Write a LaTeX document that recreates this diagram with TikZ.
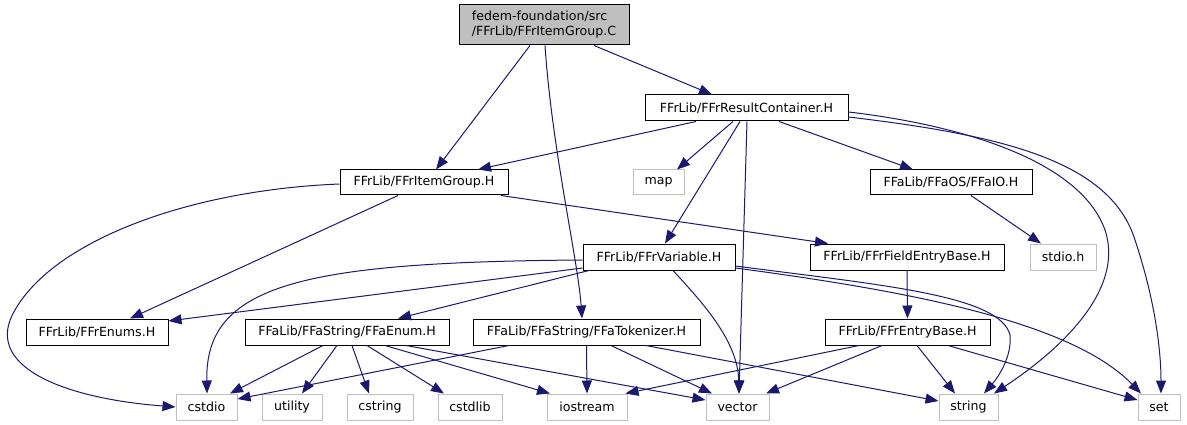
\documentclass[tikz,border=0pt]{standalone}
\usepackage{fontspec}
\setmainfont{DejaVu Sans}
\usetikzlibrary{arrows.meta}
\definecolor{edgec}{HTML}{191970}
\definecolor{grayb}{HTML}{BFBFBF}
\begin{document}
\begin{tikzpicture}[x=1pt,y=-1pt,
 box/.style={draw=black,line width=1pt,fill=white,inner sep=0pt,font=\fontsize{12.6}{15}\selectfont,minimum height=26pt},
 sysbox/.style={box,draw=grayb},
 rootbox/.style={box,fill=grayb,align=left,minimum height=40pt},
 edge/.style={draw=edgec,line width=1pt,-{Triangle[length=13pt,width=10pt]}}]
\useasboundingbox (0,0) rectangle (1187,425);
% nodes
\node[rootbox,minimum width=170pt] (root) at (544,25) {fedem-foundation/src\\/FFrLib/FFrItemGroup.C};
\node[box,minimum width=203pt] (rc) at (746.5,108) {FFrLib/FFrResultContainer.H};
\node[box,minimum width=168pt,minimum height=25pt] (ig) at (424,182.5) {FFrLib/FFrItemGroup.H};
\node[sysbox,minimum width=51pt,minimum height=25pt] (map) at (658.5,182.5) {map};
\node[box,minimum width=162pt,minimum height=25pt] (io) at (951,182.5) {FFaLib/FFaOS/FFaIO.H};
\node[box,minimum width=152pt] (var) at (659,257) {FFrLib/FFrVariable.H};
\node[box,minimum width=194pt] (feb) at (907,257) {FFrLib/FFrFieldEntryBase.H};
\node[sysbox,minimum width=66pt] (stdioh) at (1063,257) {stdio.h};
\node[box,minimum width=142pt] (enums) at (97,332) {FFrLib/FFrEnums.H};
\node[box,minimum width=204pt] (ffaenum) at (347,332) {FFaLib/FFaString/FFaEnum.H};
\node[box,minimum width=227pt] (tok) at (586.5,332) {FFaLib/FFaString/FFaTokenizer.H};
\node[box,minimum width=165pt] (eb) at (907.5,332) {FFrLib/FFrEntryBase.H};
\node[sysbox,minimum width=61pt] (cstdio) at (206.5,407) {cstdio};
\node[sysbox,minimum width=60pt] (utility) at (292,407) {utility};
\node[sysbox,minimum width=66pt] (cstring) at (380,407) {cstring};
\node[sysbox,minimum width=64pt] (cstdlib) at (470,407) {cstdlib};
\node[sysbox,minimum width=80pt] (iostream) at (587,407) {iostream};
\node[sysbox,minimum width=63pt] (vector) at (737.5,407) {vector};
\node[sysbox,minimum width=59pt] (string) at (968.5,407) {string};
\node[sysbox,minimum width=42pt] (set) at (1159,407) {set};
% edges from root
\draw[edge] ([xshift=-14pt]root.south) -- ([xshift=12pt]ig.north);
\draw[edge] ([xshift=50pt]root.south) -- ([xshift=-34.5pt]rc.north);
\draw[edge] ([xshift=1pt]root.south) .. controls (552,150) and (578,260) .. ([xshift=-4.5pt]tok.north);
% edges from rc
\draw[edge] ([xshift=-50.5pt]rc.south) -- ([xshift=54pt]ig.north);
\draw[edge] ([xshift=-13.5pt]rc.south) -- ([xshift=18.5pt]map.north);
\draw[edge] ([xshift=-6.5pt]rc.south) -- ([xshift=6pt]var.north);
\draw[edge] ([xshift=0.5pt]rc.south) -- ([xshift=1.5pt]vector.north);
\draw[edge] ([xshift=32.5pt]rc.south) -- ([xshift=-38pt]io.north);
\draw[edge] ([yshift=-4pt]rc.east) .. controls (960,125) and (1080,160) .. (1105,230) .. controls (1125,290) and (1060,350) .. ([xshift=25.5pt]string.north);
\draw[edge] ([yshift=-9pt]rc.east) .. controls (1000,135) and (1110,160) .. (1135,240) .. controls (1155,300) and (1161,350) .. ([xshift=2pt]set.north);
% edges from ig
\draw[edge] ([yshift=-1.5pt]ig.west) .. controls (190,190) and (55,240) .. (15,310) .. controls (-18,365) and (60,398) .. (cstdio.west);
\draw[edge] ([xshift=-26pt]ig.south) -- ([xshift=33pt]enums.north);
\draw[edge] ([xshift=77pt]ig.south) -- ([xshift=-79pt]feb.north);
% io
\draw[edge] ([xshift=20pt]io.south) -- ([xshift=-22pt]stdioh.north);
% var
\draw[edge] ([yshift=-11pt]var.west) -- ([yshift=11pt]enums.east);
\draw[edge] ([yshift=-3pt]var.west) .. controls (300,262) and (205,285) .. ([xshift=0.5pt]cstdio.north);
\draw[edge] ([xshift=-70pt]var.south) -- ([xshift=51pt]ffaenum.north);
\draw[edge] ([xshift=14pt]var.south) .. controls (700,300) and (738,340) .. ([xshift=1.5pt]vector.north);
\draw[edge] ([yshift=-9pt]var.east) .. controls (880,285) and (1000,295) .. (1010,335) .. controls (1012,355) and (1000,375) .. ([xshift=15.5pt]string.north);
\draw[edge] ([yshift=-11pt]var.east) .. controls (900,290) and (1070,320) .. ([xshift=-18pt]set.north);
% feb
\draw[edge] (feb.south) -- (eb.north);
% ffaenum
\draw[edge] ([xshift=-24pt]ffaenum.south) -- ([xshift=23.5pt]cstdio.north);
\draw[edge] ([xshift=-10pt]ffaenum.south) -- ([xshift=10pt]utility.north);
\draw[edge] ([xshift=5pt]ffaenum.south) -- ([xshift=-11pt]cstring.north);
\draw[edge] ([xshift=20pt]ffaenum.south) -- ([xshift=-26pt]cstdlib.north);
\draw[edge] ([xshift=38pt]ffaenum.south) -- ([xshift=-37pt]iostream.north);
\draw[edge] ([xshift=59pt]ffaenum.south) -- ([yshift=7pt]vector.west);
% tok
\draw[edge] ([xshift=-77.5pt]tok.south) -- ([yshift=8pt]cstdio.east);
\draw[edge] (tok.south) -- (iostream.north);
\draw[edge] ([xshift=24.5pt]tok.south) -- ([xshift=-25.5pt]vector.north);
\draw[edge] ([xshift=59.5pt]tok.south) -- ([yshift=6pt]string.west);
% eb
\draw[edge] ([xshift=-48.5pt]eb.south) -- ([xshift=-2pt]iostream.north east);
\draw[edge] ([xshift=-25.5pt]eb.south) -- ([xshift=28.5pt]vector.north);
\draw[edge] ([xshift=9.5pt]eb.south) -- ([xshift=-13.5pt]string.north);
\draw[edge] ([xshift=40.5pt]eb.south) -- ([yshift=7pt]set.west);
\end{tikzpicture}
\end{document}
